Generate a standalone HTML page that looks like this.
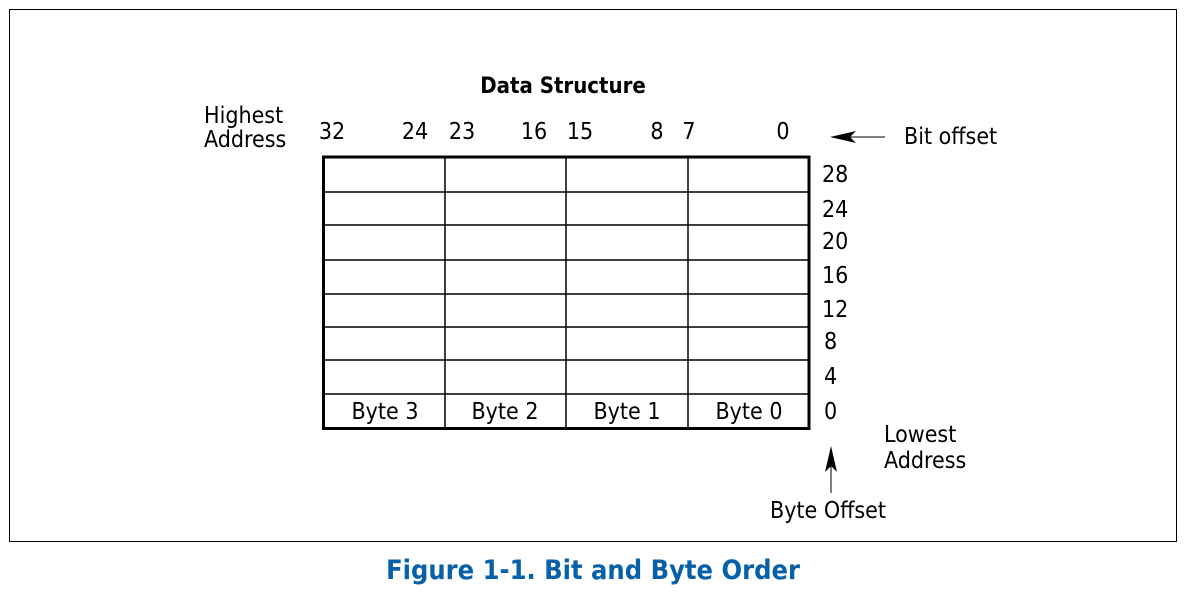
<!DOCTYPE html>
<html><head><meta charset="utf-8"><style>
html,body{margin:0;padding:0;background:#fff;}
svg{display:block;}
text{font-family:"DejaVu Sans Condensed","Liberation Sans Narrow","Liberation Sans",sans-serif;fill:#000;}
</style></head><body>
<svg width="1191" height="596" viewBox="0 0 1191 596" xmlns="http://www.w3.org/2000/svg">
<rect x="9.5" y="9.5" width="1167" height="532" fill="none" stroke="#000" stroke-width="1"/>
<text x="563" y="93" font-size="22" font-weight="bold" text-anchor="middle">Data Structure</text>
<text x="204" y="123" font-size="23">Highest</text>
<text x="204" y="147" font-size="23">Address</text>
<g font-size="23" text-anchor="middle">
<text x="332" y="139">32</text><text x="415" y="139">24</text>
<text x="462" y="139">23</text><text x="534" y="139">16</text>
<text x="580" y="139">15</text><text x="657" y="139">8</text>
<text x="689" y="139">7</text><text x="783" y="139">0</text>
</g>
<line x1="850" y1="137" x2="885" y2="137" stroke="#000" stroke-width="1"/>
<polygon points="830,137 856,131 850,137 856,143" fill="#000"/>
<text x="904" y="144" font-size="23">Bit offset</text>
<g stroke="#000" stroke-width="1.5" fill="none">
<line x1="323" y1="192" x2="809" y2="192"/>
<line x1="323" y1="225" x2="809" y2="225"/>
<line x1="323" y1="260" x2="809" y2="260"/>
<line x1="323" y1="294" x2="809" y2="294"/>
<line x1="323" y1="327" x2="809" y2="327"/>
<line x1="323" y1="360" x2="809" y2="360"/>
<line x1="323" y1="394" x2="809" y2="394"/>
<line x1="445" y1="157" x2="445" y2="428"/>
<line x1="566" y1="157" x2="566" y2="428"/>
<line x1="688" y1="157" x2="688" y2="428"/>
<rect x="323.5" y="157" width="485.5" height="271.5" stroke-width="3"/>
</g>
<g font-size="23" text-anchor="middle">
<text x="385" y="419">Byte 3</text><text x="505" y="419">Byte 2</text>
<text x="627" y="419">Byte 1</text><text x="749" y="419">Byte 0</text>
</g>
<g font-size="23">
<text x="822" y="182">28</text><text x="822" y="217">24</text>
<text x="822" y="249">20</text><text x="822" y="283">16</text>
<text x="822" y="317">12</text><text x="824" y="349">8</text>
<text x="824" y="384">4</text><text x="824" y="419">0</text>
</g>
<text x="884" y="442" font-size="23">Lowest</text>
<text x="884" y="468" font-size="23">Address</text>
<line x1="831" y1="465" x2="831" y2="493" stroke="#000" stroke-width="1"/>
<polygon points="831,446 825,472 831,466 837,472" fill="#000"/>
<text x="770" y="518" font-size="23">Byte Offset</text>
<text x="593" y="579" font-size="27" font-weight="bold" text-anchor="middle" style="fill:#0860a8">Figure 1-1.  Bit and Byte Order</text>
</svg>
</body></html>
